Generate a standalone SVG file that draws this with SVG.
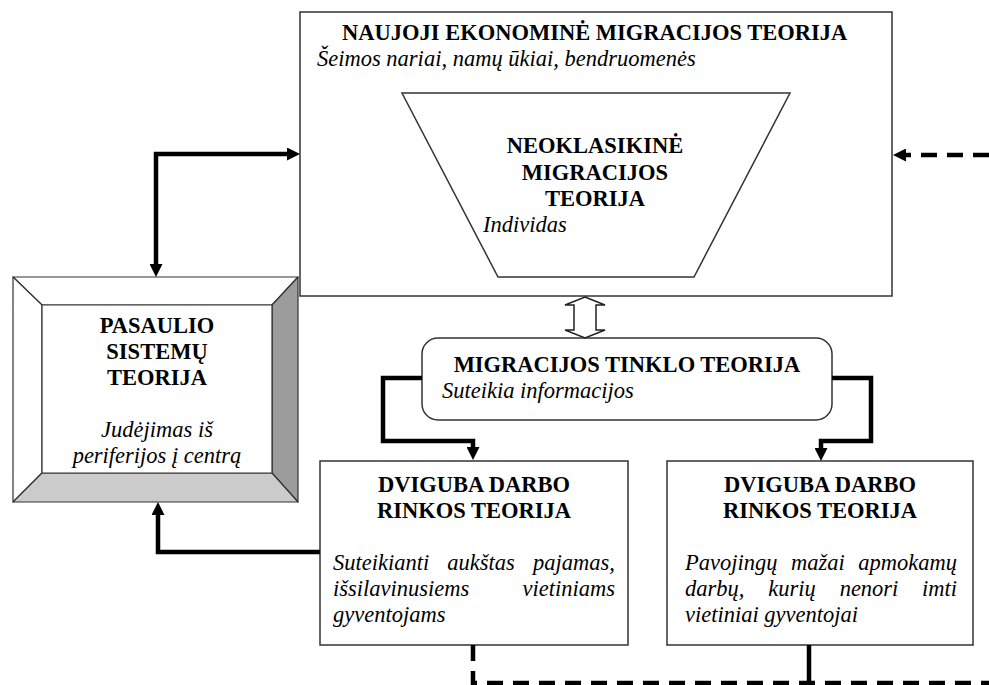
<svg xmlns="http://www.w3.org/2000/svg" width="989" height="685" viewBox="0 0 989 685">
<style>
.box{fill:#fff;stroke:#333;stroke-width:1.5}
.bev{stroke:#333;stroke-width:1.2;stroke-linejoin:round}
.t{font-family:"Liberation Serif","Times New Roman",serif;font-size:22.5px;fill:#000}
.b{font-weight:bold}
.i{font-style:italic}
.c{text-anchor:middle}
.e{text-anchor:end}
.ln{fill:none;stroke:#000;stroke-width:4.5}
.dash{stroke-dasharray:16 10}
</style>
<defs>
<marker id="arr" viewBox="0 0 13 13" refX="3" refY="6.5" markerWidth="13" markerHeight="13" markerUnits="userSpaceOnUse" orient="auto-start-reverse">
<path d="M0,0 L13,6.5 L0,13 z" fill="#000"/>
</marker>
</defs>

<g id="naujoji">
<rect class="box" x="300" y="12" width="592" height="284"/>
<text class="t b" x="342" y="40">NAUJOJI EKONOMINĖ MIGRACIJOS TEORIJA</text>
<text class="t i" x="317" y="66">Šeimos nariai, namų ūkiai, bendruomenės</text>
</g>

<g id="neoklasikine">
<polygon class="box" points="402,93 790,93 694,277 498,277"/>
<text class="t b c" x="595" y="153">NEOKLASIKINĖ</text>
<text class="t b c" x="595" y="180">MIGRACIJOS</text>
<text class="t b c" x="595" y="206">TEORIJA</text>
<text class="t i" x="483" y="232">Individas</text>
</g>

<g id="pasaulio">
<polygon class="bev" fill="#fff" points="13,277 298,277 272,305 42,305"/>
<polygon class="bev" fill="#fff" points="13,277 42,305 42,473 13,502"/>
<polygon class="bev" fill="#9c9c9c" points="298,277 298,502 272,473 272,305"/>
<polygon class="bev" fill="#cbcbcb" points="13,502 42,473 272,473 298,502"/>
<rect class="bev" fill="#fff" x="42" y="305" width="230" height="168"/>
<text class="t b c" x="157" y="333">PASAULIO</text>
<text class="t b c" x="157" y="359">SISTEMŲ</text>
<text class="t b c" x="157" y="385">TEORIJA</text>
<text class="t i c" x="157" y="437">Judėjimas iš</text>
<text class="t i c" x="157" y="463">periferijos į centrą</text>
</g>

<g id="tinklo">
<rect class="box" x="422" y="338" width="410" height="82" rx="16" ry="16"/>
<text class="t b c" x="627" y="372">MIGRACIJOS TINKLO TEORIJA</text>
<text class="t i" x="442" y="398">Suteikia informacijos</text>
</g>

<g id="dviguba1">
<rect class="box" x="320" y="461" width="308" height="184"/>
<text class="t b c" x="474" y="492">DVIGUBA DARBO</text>
<text class="t b c" x="474" y="518">RINKOS TEORIJA</text>
<text class="t i" x="333" y="570">Suteikianti</text>
<text class="t i c" x="481" y="570">aukštas</text>
<text class="t i e" x="615" y="570">pajamas,</text>
<text class="t i" x="333" y="596">išsilavinusiems</text>
<text class="t i e" x="615" y="596">vietiniams</text>
<text class="t i" x="333" y="622">gyventojams</text>
</g>

<g id="dviguba2">
<rect class="box" x="667" y="461" width="306" height="184"/>
<text class="t b c" x="820" y="492">DVIGUBA DARBO</text>
<text class="t b c" x="820" y="518">RINKOS TEORIJA</text>
<text class="t i" x="685" y="570">Pavojingų</text>
<text class="t i c" x="818" y="570">mažai</text>
<text class="t i e" x="957" y="570">apmokamų</text>
<text class="t i" x="685" y="596">darbų,</text>
<text class="t i c" x="792" y="596">kurių</text>
<text class="t i c" x="869" y="596">nenori</text>
<text class="t i e" x="957" y="596">imti</text>
<text class="t i" x="685" y="622">vietiniai gyventojai</text>
</g>

<g id="connectors">
<path class="ln" d="M156,267 L156,154 L290,154" marker-start="url(#arr)" marker-end="url(#arr)"/>
<polygon fill="#fff" stroke="#222" stroke-width="1.5" stroke-linejoin="miter" points="585,297 605,305 596,305 596,330 605,330 585,338 565,330 574,330 574,305 565,305"/>
<path class="ln" d="M422,378 L383,378 L383,441 L473,441 L473,450" marker-end="url(#arr)"/>
<path class="ln" d="M832,378 L871,378 L871,441 L821,441 L821,451" marker-end="url(#arr)"/>
<path class="ln" d="M320,552 L158,552 L158,512" marker-end="url(#arr)"/>
<path class="ln dash" d="M989,155 L903,155" marker-end="url(#arr)"/>
<path class="ln dash" d="M473,645 L473,683 L989,683"/>
<path class="ln" d="M809,645 L809,685"/>
</g>
</svg>
